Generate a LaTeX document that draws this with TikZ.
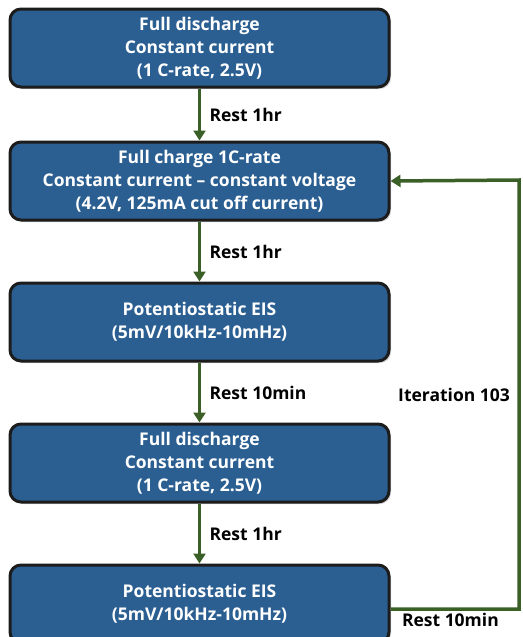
\documentclass[tikz,border=0pt]{standalone}
\usepackage{fontspec}
\setmainfont{Open Sans}
\usetikzlibrary{positioning,arrows.meta,shadows}

\definecolor{stepblue}{HTML}{2B5F92}
\definecolor{stepedge}{HTML}{1C1C1C}
\definecolor{flowgreen}{HTML}{3A5F27}

\begin{document}
\begin{tikzpicture}[
    x=1pt, y=1pt,
    node distance=60pt,
    font=\fontsize{17.5}{23}\selectfont\bfseries,
    stepbox/.style={rectangle, draw=stepedge, line width=3pt, fill=stepblue, text=white,
        rounded corners=11pt, minimum width=379pt, minimum height=78pt, align=center,
        drop shadow={shadow xshift=2pt, shadow yshift=-2pt, opacity=0.35}},
    flow/.style={draw=flowgreen, line width=3.5pt, -{Triangle[width=12pt,length=10pt]}},
    restlabel/.style={right=5pt, text=black}
]
    \useasboundingbox (0,0) rectangle (522,-637);

    % Steps
    \node [stepbox] at (199.5,-48) (discharge1) {Full discharge\\Constant current\\(1 C-rate, 2.5V)};
    \node [stepbox, below=52pt of discharge1] (charge) {Full charge 1C-rate\\Constant current -- constant voltage\\(4.2V, 125mA cut off current)};
    \node [stepbox, below=of charge] (eis1) {Potentiostatic EIS\\(5mV/10kHz-10mHz)};
    \node [stepbox, below=of eis1] (discharge2) {Full discharge\\Constant current\\(1 C-rate, 2.5V)};
    \node [stepbox, below=of discharge2] (eis2) {Potentiostatic EIS\\(5mV/10kHz-10mHz)};

    % Connections
    \draw [flow] (discharge1) -- node [restlabel] {Rest 1hr} (charge);
    \draw [flow] (charge) -- node [restlabel] {Rest 1hr} (eis1);
    \draw [flow] (eis1) -- node [restlabel] {Rest 10min} (discharge2);
    \draw [flow] (discharge2) -- node [restlabel] {Rest 1hr} (eis2);

    % Iteration loop
    \coordinate (turn) at (519,-180);
    \draw [flow] ([yshift=-5pt]eis2.east) -| node [pos=0.75, left=4pt, text=black] {Iteration 103} (turn) -- (charge.east);
    \node [below right=1pt and 8pt of eis2.east, yshift=-5pt] (restloop) {Rest 10min};
\end{tikzpicture}
\end{document}
